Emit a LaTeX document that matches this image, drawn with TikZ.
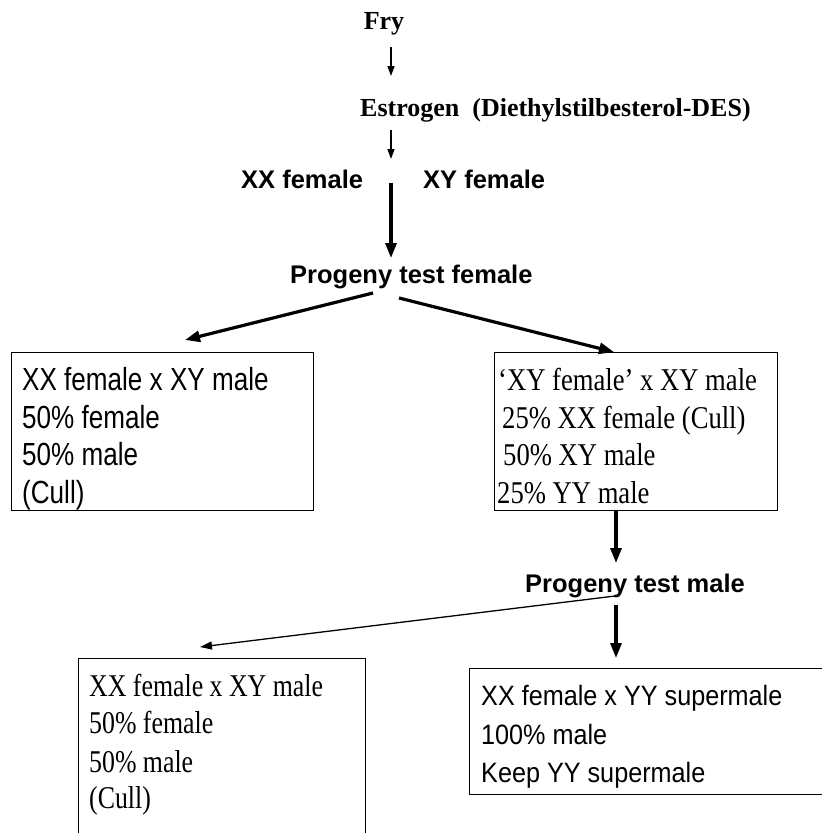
\documentclass[tikz,border=0pt]{standalone}
\usepackage{fontspec}
\setmainfont{Liberation Serif}
\newfontfamily\hsans{Liberation Sans}
\newfontfamily\boxsansA[FakeStretch=0.815]{Liberation Sans}
\newfontfamily\boxsansB[FakeStretch=0.9]{Liberation Sans}
\newfontfamily\boxserifA[FakeStretch=0.84]{Liberation Serif}
\newfontfamily\boxserifB[FakeStretch=0.815]{Liberation Serif}
\usetikzlibrary{arrows.meta}
\begin{document}
\begin{tikzpicture}[x=1pt,y=-1pt,
  lbl/.style={inner sep=0pt, anchor=base west},
  serifhead/.style={lbl, font=\fontsize{26}{30}\selectfont\bfseries},
  sanshead/.style={lbl, font=\hsans\fontsize{25.5}{30}\selectfont\bfseries},
  ltxt/.style={lbl, font=\boxsansA\fontsize{32}{38}\selectfont},
  rtxt/.style={lbl, font=\boxserifA\fontsize{31.7}{38}\selectfont},
  bltxt/.style={lbl, font=\boxserifB\fontsize{31.7}{38}\selectfont},
  brtxt/.style={lbl, font=\boxsansB\fontsize{28}{34}\selectfont},
  boxframe/.style={draw, line width=1.3pt, anchor=north west, inner sep=0pt},
  thinarrow/.style={line width=1.4pt, -{Triangle[length=10pt,width=7pt]}},
  thickarrow/.style={line width=3.2pt, -{Triangle[length=15pt,width=11pt]}},
  diagthin/.style={line width=1.3pt, -{Triangle[length=12pt,width=8pt]}}]
\path[use as bounding box] (0,0) rectangle (822,833);
\clip (0,0) rectangle (822,833);

% headings
\node[serifhead, anchor=base] (fry) at (384,29) {Fry};
\node[serifhead] (estro) at (360,116) {Estrogen\ \ (Diethylstilbesterol-DES)};
\node[sanshead] (xxf) at (241,188) {XX female};
\node[sanshead] (xyf) at (423,188) {XY female};
\node[sanshead] (ptf) at (290,283) {Progeny test female};
\node[sanshead] (ptm) at (525,592) {Progeny test male};

% boxes
\node[boxframe, minimum width=302pt, minimum height=158pt] (lbox) at (11,352) {};
\node[boxframe, minimum width=283pt, minimum height=158pt] (rbox) at (494,352) {};
\node[boxframe, minimum width=287pt, minimum height=220pt] (blbox) at (78,658) {};
\node[boxframe, minimum width=380pt, minimum height=126pt] (brbox) at (469,668) {};

% left box text
\node[ltxt] (l1) at (22,390) {XX female x XY male};
\node[ltxt] (l2) at (22,428) {50\% female};
\node[ltxt] (l3) at (22,465) {50\% male};
\node[ltxt] (l4) at (22,503) {(Cull)};

% right box text
\node[rtxt] (r1) at (498,390) {‘XY female’ x XY male};
\node[rtxt] (r2) at (502,428) {25\% XX female (Cull)};
\node[rtxt] (r3) at (503,465) {50\% XY male};
\node[rtxt] (r4) at (497,503) {25\% YY male};

% bottom-left box text
\node[bltxt] (bl1) at (89,696) {XX female x XY male};
\node[bltxt] (bl2) at (89,733) {50\% female};
\node[bltxt] (bl3) at (89,772) {50\% male};
\node[bltxt] (bl4) at (89,808) {(Cull)};

% bottom-right box text
\node[brtxt] (br1) at (481,705) {XX female x YY supermale};
\node[brtxt] (br2) at (481,744) {100\% male};
\node[brtxt] (br3) at (481,782) {Keep YY supermale};

% connector end points
\coordinate (a1s) at (391,47);  \coordinate (a1e) at (391,76);
\coordinate (a2s) at (391,130); \coordinate (a2e) at (391,159);
\coordinate (a3s) at (391,183); \coordinate (a3e) at (391,258);
\coordinate (dls) at (373,293); \coordinate (dle) at (185,340);
\coordinate (drs) at (399,298); \coordinate (dre) at (614,352);
\coordinate (a4s) at (616,510); \coordinate (a4e) at (616,563);
\coordinate (tls) at (615,596); \coordinate (tle) at (200,647);
\coordinate (a5s) at (616,605); \coordinate (a5e) at (616,658);

\draw[thinarrow] (a1s) -- (a1e);
\draw[thinarrow] (a2s) -- (a2e);
\draw[thickarrow] (a3s) -- (a3e);
\draw[thickarrow] (dls) -- (dle);
\draw[thickarrow] (drs) -- (dre);
\draw[thickarrow] (a4s) -- (a4e);
\draw[diagthin] (tls) -- (tle);
\draw[thickarrow] (a5s) -- (a5e);
\end{tikzpicture}
\end{document}
